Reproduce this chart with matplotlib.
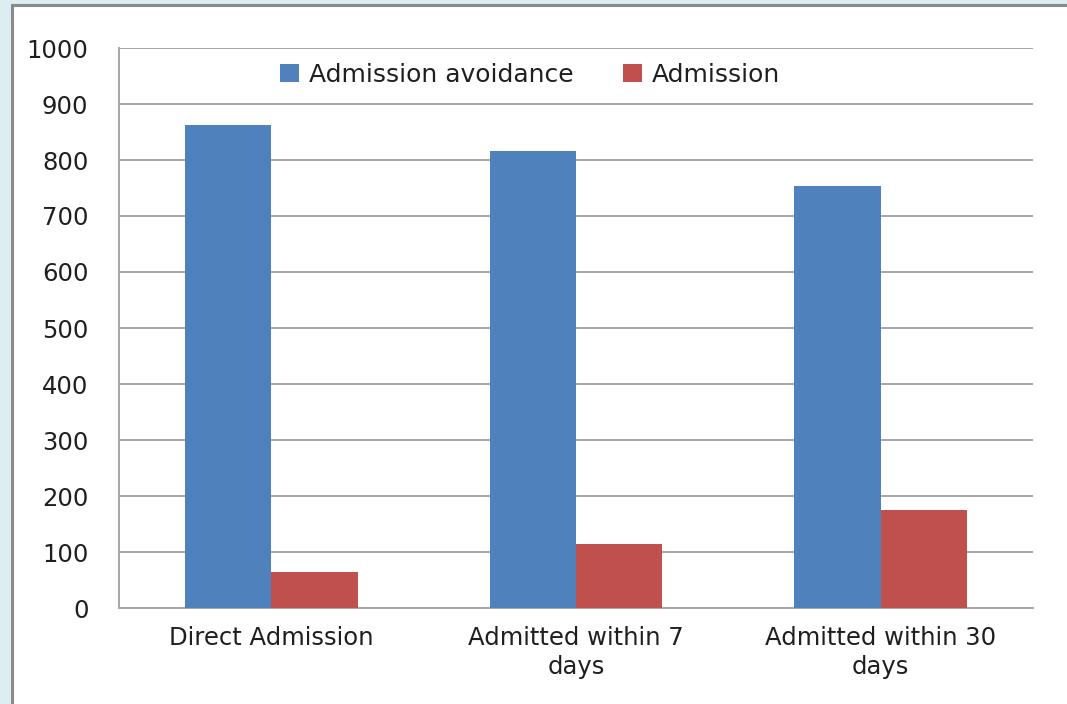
import matplotlib
matplotlib.use("Agg")
import matplotlib.pyplot as plt
import numpy as np
from matplotlib.patches import Rectangle

categories = ["Direct Admission", "Admitted within 7\ndays", "Admitted within 30\ndays"]
avoidance = [862, 816, 754]
admission = [65, 114, 175]
yticks = [0, 100, 200, 300, 400, 500, 600, 700, 800, 900, 1000]
series_names = ["Admission avoidance", "Admission"]

W, H = 1067, 704
fig = plt.figure(figsize=(W / 100, H / 100), dpi=100)
fig.patch.set_facecolor("#DCEEF2")

# white panel with gray border (left and top)
panel = Rectangle((12 / W, -0.05), 1.2, (H - 4.5) / H + 0.05, transform=fig.transFigure,
                  facecolor="white", edgecolor="#8a8a8a", linewidth=2.2, zorder=-10)
fig.patches.append(panel)

ax = fig.add_axes([119 / W, 1 - 608 / H, (1033 - 119) / W, (608 - 48) / H])
ax.set_zorder(5)
ax.set_facecolor("none")

x = np.arange(len(categories))
bw = 0.283
ax.bar(x - bw / 2, avoidance, width=bw, color="#4F81BD", label=series_names[0], zorder=3)
ax.bar(x + bw / 2, admission, width=bw, color="#C0504D", label=series_names[1], zorder=3)

ax.set_xlim(-0.5, len(categories) - 0.5)
ax.set_ylim(0, 1000)
ax.set_yticks(yticks)
ax.set_yticklabels([str(v) for v in yticks])
ax.set_xticks(x)
ax.set_xticklabels(categories, linespacing=1.25)

ax.grid(axis="y", color="#A6A6A6", linewidth=1.4, zorder=1)
ax.set_axisbelow(True)
for s in ["top", "right"]:
    ax.spines[s].set_visible(False)
for s in ["left", "bottom"]:
    ax.spines[s].set_color("#A6A6A6")
    ax.spines[s].set_linewidth(1.4)

ax.tick_params(axis="y", length=0, pad=22, labelsize=17.5, labelcolor="#1f1f1f")
ax.tick_params(axis="x", length=0, pad=13, labelsize=17.5, labelcolor="#1f1f1f")

leg = fig.legend(loc="center", bbox_to_anchor=(530 / W, 1 - 75 / H), ncol=2, frameon=False,
                 fontsize=18, handlelength=0.75, handleheight=0.75, handletextpad=0.4,
                 columnspacing=2.0, labelcolor="#1f1f1f")
leg.set_zorder(10)

fig.savefig("out.png", dpi=100, facecolor=fig.get_facecolor())
